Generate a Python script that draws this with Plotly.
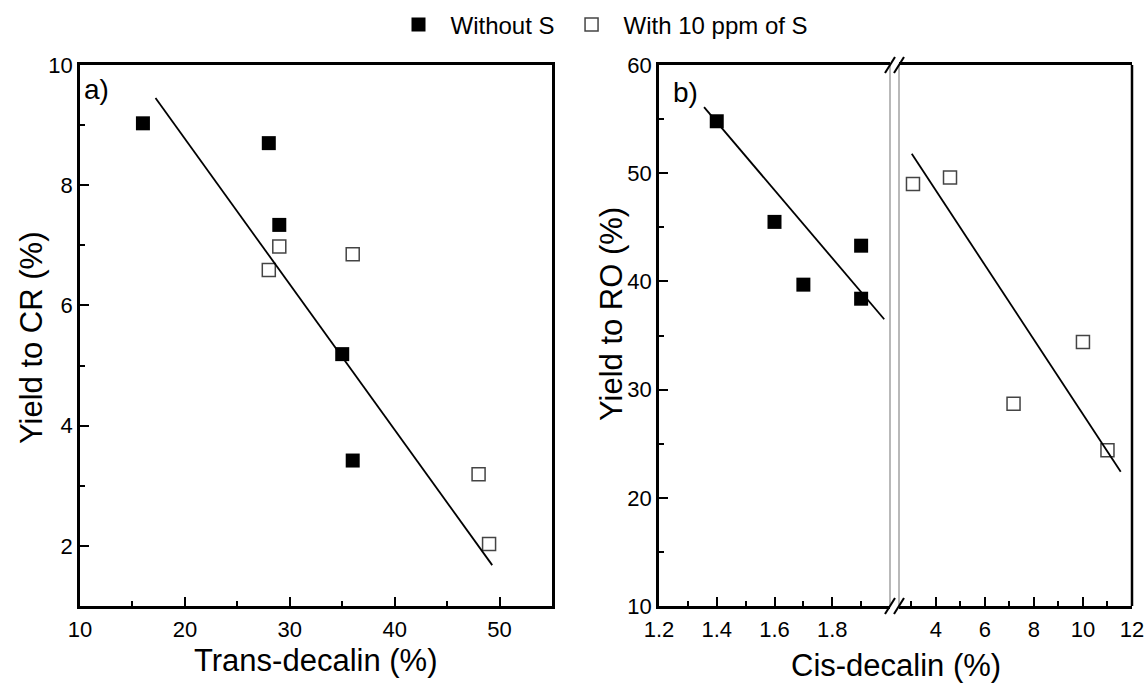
import plotly.graph_objects as go

W, H = 1144, 683

# ---- data ----
trans_without = [16, 28, 29, 35, 36]
cr_without = [9.03, 8.70, 7.34, 5.19, 3.42]
trans_with = [28, 29, 36, 48, 49]
cr_with = [6.59, 6.98, 6.85, 3.19, 2.03]
fit_a_x = [17.2, 49.3]
fit_a_y = [9.45, 1.68]

cis_without = [1.4, 1.6, 1.7, 1.9, 1.9]
ro_without = [54.8, 45.5, 39.7, 43.3, 38.4]
fit_b1_x = [1.356, 1.98]
fit_b1_y = [56.1, 36.5]

cis_with = [3.07, 4.58, 7.17, 10.0, 11.0]
ro_with = [49.0, 49.6, 28.7, 34.4, 24.4]
fit_b2_x = [3.02, 11.54]
fit_b2_y = [51.8, 22.4]

seg1_ticks = [1.2, 1.4, 1.6, 1.8]
series_names = ["Without S", "With 10 ppm of S"]

FONT = "Liberation Sans, Arial, sans-serif"


def px(x):
    return x / W


def py(y):
    return 1 - y / H


fig = go.Figure()

filled = dict(symbol="square", size=14, color="black")
opened = dict(symbol="square-open", size=13, color="#444444", line=dict(width=1.5))

fig.add_trace(go.Scatter(x=trans_without, y=cr_without, mode="markers", marker=filled,
                         name=series_names[0], xaxis="x", yaxis="y", legendrank=1))
fig.add_trace(go.Scatter(x=trans_with, y=cr_with, mode="markers", marker=opened,
                         name=series_names[1], xaxis="x", yaxis="y", legendrank=2))
fig.add_trace(go.Scatter(x=fit_a_x, y=fit_a_y, mode="lines", line=dict(color="black", width=1.8),
                         showlegend=False, xaxis="x", yaxis="y"))

fig.add_trace(go.Scatter(x=cis_without, y=ro_without, mode="markers", marker=filled,
                         showlegend=False, xaxis="x2", yaxis="y2"))
fig.add_trace(go.Scatter(x=fit_b1_x, y=fit_b1_y, mode="lines", line=dict(color="black", width=1.8),
                         showlegend=False, xaxis="x2", yaxis="y2"))
fig.add_trace(go.Scatter(x=cis_with, y=ro_with, mode="markers", marker=opened,
                         showlegend=False, xaxis="x3", yaxis="y2"))
fig.add_trace(go.Scatter(x=fit_b2_x, y=fit_b2_y, mode="lines", line=dict(color="black", width=1.8),
                         showlegend=False, xaxis="x3", yaxis="y2"))

ydom = [py(606), py(65)]
common = dict(showline=True, linecolor="black", linewidth=2.5, ticks="inside", ticklen=9,
              tickwidth=2, tickcolor="black", showgrid=False, zeroline=False, automargin=False,
              ticklabeloverflow="allow",
              tickfont=dict(family=FONT, size=22, color="black"),
              minor=dict(ticks="inside", ticklen=5, tickwidth=2, tickcolor="black", showgrid=False))

fig.update_layout(
    template="none",
    width=W, height=H, margin=dict(l=0, r=0, t=0, b=0, autoexpand=False),
    paper_bgcolor="white", plot_bgcolor="white",
    font=dict(family=FONT, color="black"),
    xaxis=dict(**common, domain=[px(80), px(552)], range=[10, 55], tick0=0, dtick=10,
               mirror=True, anchor="y", ticklabelstandoff=2),
    yaxis=dict(**common, domain=ydom, range=[1, 10], tick0=0, dtick=2, mirror=True, anchor="x"),
    xaxis2=dict(**common, domain=[px(659), px(890)], range=[1.2, 2.0], tickmode="array",
                tickvals=seg1_ticks, ticktext=[f"{v:.1f}" for v in seg1_ticks],
                mirror=True, anchor="y2", ticklabelstandoff=2),
    xaxis3=dict(**common, domain=[px(899), px(1132)], range=[2.5, 12.0001], tick0=0, dtick=2,
                mirror=True, anchor="y2", ticklabelstandoff=2),
    yaxis2=dict(**common, domain=ydom, range=[10, 60], tick0=0, dtick=10, anchor="x2"),
    legend=dict(orientation="h", x=px(600), xanchor="center", y=py(25), yanchor="middle",
                font=dict(family=FONT, size=24, color="black"), bgcolor="rgba(0,0,0,0)",
                itemwidth=54),
    showlegend=True,
)
fig.update_layout(
    xaxis=dict(minor=dict(dtick=5, tick0=0)),
    yaxis=dict(minor=dict(dtick=1, tick0=0)),
    xaxis2=dict(minor=dict(tickmode="linear", dtick=0.1, tick0=1.2)),
    xaxis3=dict(minor=dict(dtick=1, tick0=0)),
    yaxis2=dict(minor=dict(dtick=5, tick0=0)),
)

shapes = []
# right border of segment 2
shapes.append(dict(type="line", xref="x3 domain", yref="y2 domain", x0=1, x1=1, y0=0, y1=1,
                   line=dict(color="black", width=2.5)))
# thin grey break lines
for xr, xv in (("x2 domain", 1), ("x3 domain", 0)):
    shapes.append(dict(type="line", xref=xr, yref="y2 domain", x0=xv, x1=xv, y0=0, y1=1,
                       line=dict(color="#8a8a8a", width=1.2)))
# break slashes at top and bottom
for xanchor in (px(890), px(899)):
    for yanchor in ydom:
        shapes.append(dict(type="line", xref="paper", yref="paper",
                           xsizemode="pixel", ysizemode="pixel",
                           xanchor=xanchor, yanchor=yanchor,
                           x0=-5, x1=5, y0=-8, y1=8, line=dict(color="black", width=2)))
fig.update_layout(shapes=shapes)

title_font = dict(family=FONT, size=31, color="black")
ann = [
    dict(text="Trans-decalin (%)", x=px(316), y=py(660), xref="paper", yref="paper",
         xanchor="center", yanchor="middle", showarrow=False, font=title_font),
    dict(text="Cis-decalin (%)", x=px(896), y=py(665), xref="paper", yref="paper",
         xanchor="center", yanchor="middle", showarrow=False, font=title_font),
    dict(text="Yield to CR (%)", x=px(31), y=py(338), xref="paper", yref="paper",
         xanchor="center", yanchor="middle", showarrow=False, font=title_font, textangle=-90),
    dict(text="Yield to RO (%)", x=px(611), y=py(314), xref="paper", yref="paper",
         xanchor="center", yanchor="middle", showarrow=False, font=title_font, textangle=-90),
    dict(text="a)", x=px(82), y=py(89), xref="paper", yref="paper",
         xanchor="left", yanchor="middle", showarrow=False, font=dict(family=FONT, size=28, color="black")),
    dict(text="b)", x=px(671), y=py(92), xref="paper", yref="paper",
         xanchor="left", yanchor="middle", showarrow=False, font=dict(family=FONT, size=28, color="black")),
]
fig.update_layout(annotations=ann)

fig.write_html("out.html")
